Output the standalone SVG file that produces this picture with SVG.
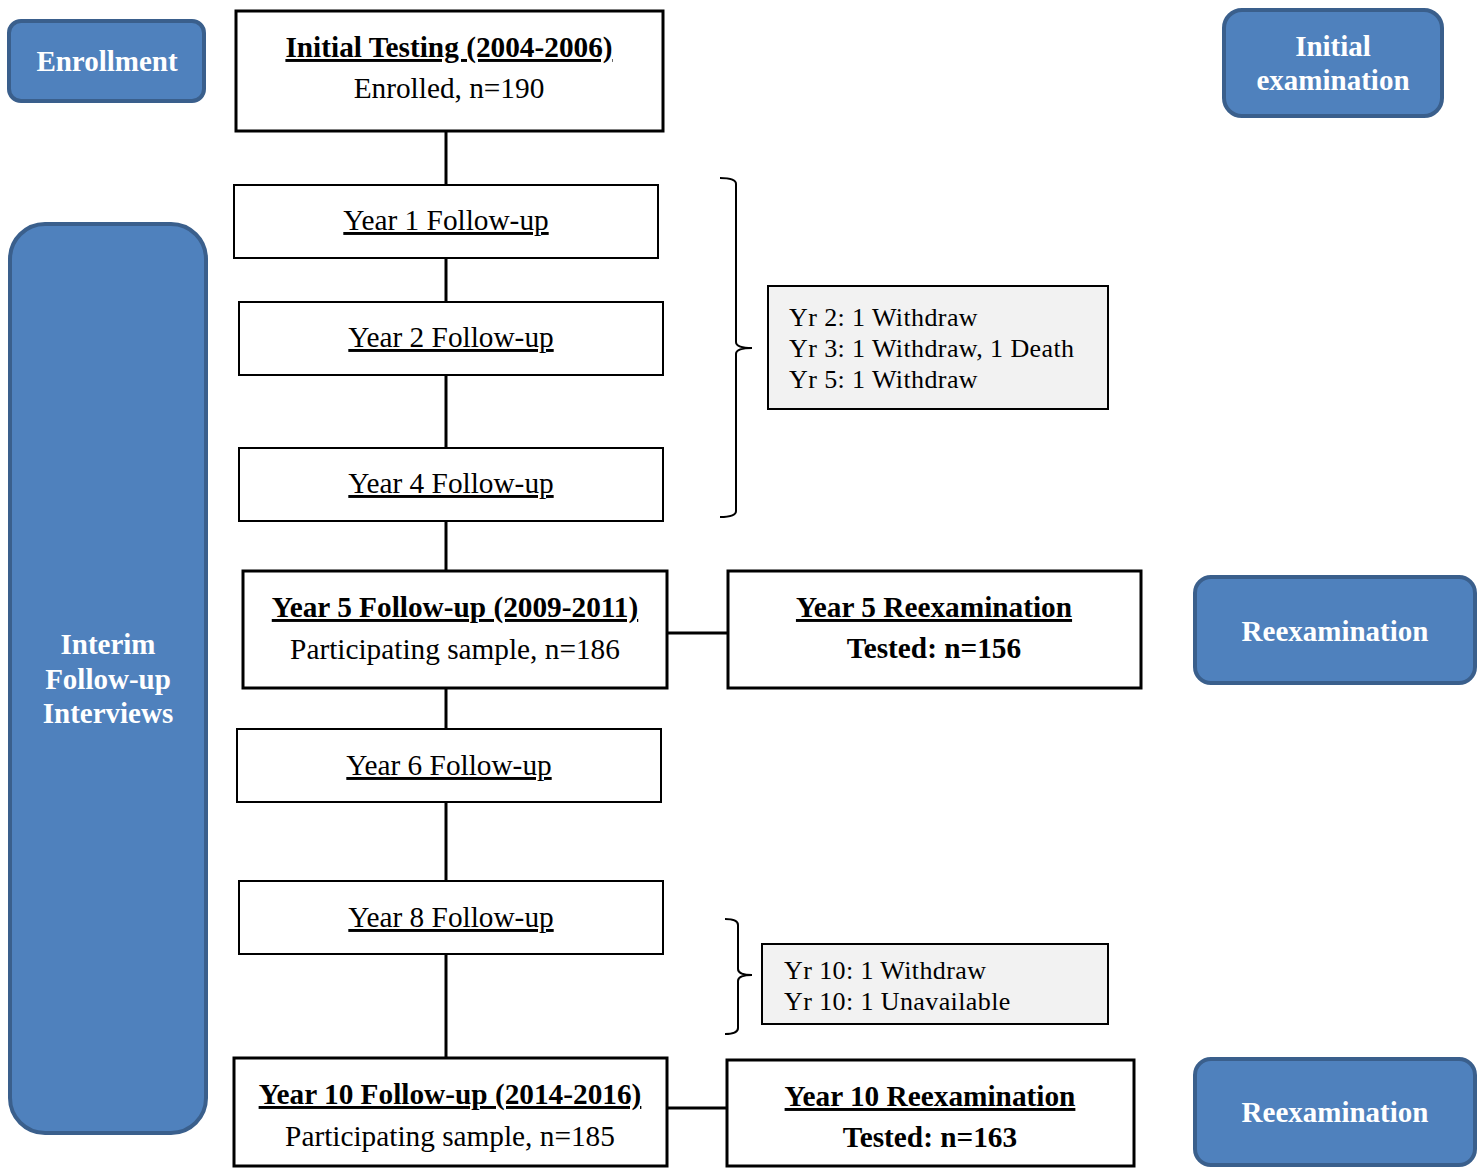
<svg xmlns="http://www.w3.org/2000/svg" width="1483" height="1168" viewBox="0 0 1483 1168">
<style>
.bg{fill:#ffffff}
.blue{fill:#4f81bd;stroke:#3a5f8c;stroke-width:4}
.btxt{font-family:"Liberation Serif","Times New Roman",serif;font-size:29px;font-weight:bold;fill:#ffffff;text-anchor:middle}
.box{fill:#ffffff;stroke:#000000;stroke-width:2}
.boxb{fill:#ffffff;stroke:#000000;stroke-width:3}
.gray{fill:#f2f2f2;stroke:#000000;stroke-width:2}
.t{font-family:"Liberation Serif","Times New Roman",serif;font-size:29.3px;fill:#000000;text-anchor:middle}
.tb{font-family:"Liberation Serif","Times New Roman",serif;font-size:29.3px;font-weight:bold;fill:#000000;text-anchor:middle}
.u{text-decoration:underline}
.g{font-family:"Liberation Serif","Times New Roman",serif;font-size:26px;letter-spacing:0.4px;fill:#000000}
.ln{stroke:#000000;stroke-width:3;fill:none}
.br{stroke:#000000;stroke-width:2;fill:none}
</style>
<rect class="bg" x="0" y="0" width="1483" height="1168"/>
<g id="connectors">
<line class="ln" x1="446" y1="131" x2="446" y2="185"/>
<line class="ln" x1="446" y1="258" x2="446" y2="302"/>
<line class="ln" x1="446" y1="375" x2="446" y2="448"/>
<line class="ln" x1="446" y1="521" x2="446" y2="571"/>
<line class="ln" x1="446" y1="688" x2="446" y2="729"/>
<line class="ln" x1="446" y1="802" x2="446" y2="881"/>
<line class="ln" x1="446" y1="954" x2="446" y2="1058"/>
<line class="ln" x1="667" y1="633" x2="728" y2="633"/>
<line class="ln" x1="667" y1="1108" x2="727" y2="1108"/>
<path class="br" d="M720,178 Q736,178 736,184 L736,342 Q736,348 752,348 Q736,348 736,354 L736,511 Q736,517 720,517"/>
<path class="br" d="M725,919 Q738,919 738,925 L738,969 Q738,975 752,975 Q738,975 738,981 L738,1028 Q738,1034 725,1034"/>
</g>
<g id="enrollment">
<rect class="blue" x="9" y="21" width="195" height="80" rx="12"/>
<text class="btxt" x="107" y="71">Enrollment</text>
</g>
<g id="interim">
<rect class="blue" x="10" y="224" width="196" height="909" rx="35"/>
<text class="btxt" x="108" y="654">Interim</text>
<text class="btxt" x="108" y="689">Follow-up</text>
<text class="btxt" x="108" y="723">Interviews</text>
</g>
<g id="initial-exam">
<rect class="blue" x="1224" y="10" width="218" height="106" rx="18"/>
<text class="btxt" x="1333" y="56">Initial</text>
<text class="btxt" x="1333" y="90">examination</text>
</g>
<g id="reexam5">
<rect class="blue" x="1195" y="577" width="280" height="106" rx="16"/>
<text class="btxt" x="1335" y="641">Reexamination</text>
</g>
<g id="reexam10">
<rect class="blue" x="1195" y="1059" width="280" height="106" rx="16"/>
<text class="btxt" x="1335" y="1122">Reexamination</text>
</g>
<g id="initial-testing">
<rect class="boxb" x="236" y="11" width="427" height="120"/>
<text class="tb u" x="449" y="57">Initial Testing (2004-2006)</text>
<text class="t" x="449" y="98">Enrolled, n=190</text>
</g>
<g id="year1">
<rect class="box" x="234" y="185" width="424" height="73"/>
<text class="t u" x="446" y="230">Year 1 Follow-up</text>
</g>
<g id="year2">
<rect class="box" x="239" y="302" width="424" height="73"/>
<text class="t u" x="451" y="347">Year 2 Follow-up</text>
</g>
<g id="year4">
<rect class="box" x="239" y="448" width="424" height="73"/>
<text class="t u" x="451" y="493">Year 4 Follow-up</text>
</g>
<g id="year5">
<rect class="boxb" x="243" y="571" width="424" height="117"/>
<text class="tb u" x="455" y="617">Year 5 Follow-up (2009-2011)</text>
<text class="t" x="455" y="659">Participating sample, n=186</text>
</g>
<g id="year5-reexam">
<rect class="boxb" x="728" y="571" width="413" height="117"/>
<text class="tb u" x="934" y="617">Year 5 Reexamination</text>
<text class="tb" x="934" y="658">Tested: n=156</text>
</g>
<g id="year6">
<rect class="box" x="237" y="729" width="424" height="73"/>
<text class="t u" x="449" y="775">Year 6 Follow-up</text>
</g>
<g id="year8">
<rect class="box" x="239" y="881" width="424" height="73"/>
<text class="t u" x="451" y="927">Year 8 Follow-up</text>
</g>
<g id="year10">
<rect class="boxb" x="234" y="1058" width="433" height="108"/>
<text class="tb u" x="450" y="1104">Year 10 Follow-up (2014-2016)</text>
<text class="t" x="450" y="1146">Participating sample, n=185</text>
</g>
<g id="year10-reexam">
<rect class="boxb" x="727" y="1060" width="407" height="106"/>
<text class="tb u" x="930" y="1106">Year 10 Reexamination</text>
<text class="tb" x="930" y="1147">Tested: n=163</text>
</g>
<g id="attrition1">
<rect class="gray" x="768" y="286" width="340" height="123"/>
<text class="g" x="789" y="326">Yr 2: 1 Withdraw</text>
<text class="g" x="789" y="357">Yr 3: 1 Withdraw, 1 Death</text>
<text class="g" x="789" y="388">Yr 5: 1 Withdraw</text>
</g>
<g id="attrition2">
<rect class="gray" x="762" y="944" width="346" height="80"/>
<text class="g" x="784" y="979">Yr 10: 1 Withdraw</text>
<text class="g" x="784" y="1010">Yr 10: 1 Unavailable</text>
</g>
</svg>
